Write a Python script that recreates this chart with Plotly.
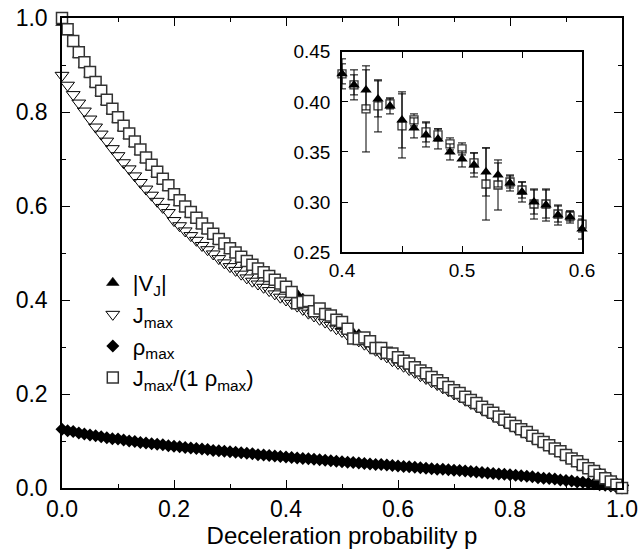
import plotly.graph_objects as go

# deceleration probability, main panel (0.00 .. 1.00)
p = [round(i * 0.01, 2) for i in range(101)]

# |V_J|  (filled up-triangles)
v_j = [0.990, 0.970, 0.946, 0.922, 0.901, 0.880, 0.859, 0.840, 0.821, 0.802,
       0.784, 0.766, 0.749, 0.732, 0.715, 0.698, 0.683, 0.668, 0.653, 0.639,
       0.620, 0.607, 0.594, 0.582, 0.570, 0.558, 0.547, 0.536, 0.525, 0.515,
       0.505, 0.496, 0.487, 0.478, 0.470, 0.462, 0.454, 0.446, 0.438, 0.431,
       0.428, 0.417, 0.412, 0.403, 0.396, 0.382, 0.374, 0.367, 0.363, 0.350,
       0.343, 0.337, 0.330, 0.327, 0.319, 0.310, 0.300, 0.297, 0.287, 0.285,
       0.273, 0.267, 0.260, 0.253, 0.246, 0.239, 0.232, 0.225, 0.218, 0.211,
       0.204, 0.197, 0.190, 0.183, 0.176, 0.169, 0.162, 0.155, 0.148, 0.141,
       0.135, 0.128, 0.121, 0.114, 0.107, 0.100, 0.094, 0.087, 0.080, 0.073,
       0.066, 0.059, 0.052, 0.045, 0.038, 0.031, 0.025, 0.018, 0.011, 0.005,
       0.000]

# J_max  (open down-triangles)
j_max = [0.878, 0.857, 0.837, 0.819, 0.802, 0.785, 0.768, 0.753, 0.738, 0.722,
         0.707, 0.692, 0.679, 0.664, 0.650, 0.636, 0.623, 0.610, 0.597, 0.586,
         0.569, 0.558, 0.547, 0.537, 0.527, 0.516, 0.507, 0.498, 0.488, 0.479,
         0.471, 0.463, 0.455, 0.447, 0.440, 0.434, 0.427, 0.420, 0.413, 0.406,
         0.400, 0.393, 0.387, 0.380, 0.372, 0.366, 0.359, 0.353, 0.346, 0.339,
         0.333, 0.326, 0.320, 0.313, 0.306, 0.299, 0.293, 0.285, 0.279, 0.271,
         0.265, 0.259, 0.252, 0.246, 0.239, 0.233, 0.226, 0.220, 0.213, 0.207,
         0.200, 0.194, 0.187, 0.180, 0.174, 0.167, 0.161, 0.154, 0.147, 0.141,
         0.135, 0.128, 0.122, 0.115, 0.108, 0.102, 0.096, 0.089, 0.082, 0.076,
         0.069, 0.062, 0.055, 0.048, 0.042, 0.035, 0.028, 0.021, 0.014, 0.007,
         0.000]

# rho_max  (filled diamonds)
rho_max = [0.125, 0.122, 0.120, 0.117, 0.115, 0.113, 0.111, 0.109, 0.107, 0.105,
           0.104, 0.102, 0.100, 0.099, 0.097, 0.096, 0.094, 0.093, 0.092, 0.090,
           0.089, 0.088, 0.086, 0.085, 0.084, 0.083, 0.082, 0.080, 0.079, 0.078,
           0.077, 0.076, 0.075, 0.074, 0.073, 0.071, 0.070, 0.069, 0.068, 0.067,
           0.066, 0.065, 0.064, 0.063, 0.062, 0.061, 0.060, 0.059, 0.058, 0.057,
           0.056, 0.055, 0.054, 0.053, 0.052, 0.051, 0.050, 0.050, 0.049, 0.048,
           0.047, 0.046, 0.045, 0.044, 0.043, 0.042, 0.041, 0.040, 0.040, 0.039,
           0.038, 0.037, 0.036, 0.035, 0.034, 0.033, 0.032, 0.031, 0.030, 0.029,
           0.028, 0.027, 0.026, 0.025, 0.024, 0.022, 0.021, 0.020, 0.019, 0.017,
           0.016, 0.015, 0.013, 0.012, 0.010, 0.009, 0.007, 0.006, 0.004, 0.002,
           0.000]

# J_max/(1-rho_max)  (open squares)
j_ratio = [1.000, 0.976, 0.951, 0.927, 0.906, 0.885, 0.864, 0.845, 0.826, 0.807,
           0.789, 0.771, 0.754, 0.737, 0.720, 0.703, 0.688, 0.673, 0.658, 0.644,
           0.625, 0.612, 0.599, 0.587, 0.575, 0.563, 0.552, 0.541, 0.530, 0.520,
           0.510, 0.501, 0.492, 0.483, 0.475, 0.467, 0.459, 0.451, 0.443, 0.435,
           0.428, 0.417, 0.393, 0.396, 0.398, 0.376, 0.382, 0.370, 0.367, 0.358,
           0.353, 0.339, 0.318, 0.317, 0.320, 0.312, 0.298, 0.298, 0.288, 0.286,
           0.278, 0.271, 0.265, 0.257, 0.250, 0.244, 0.236, 0.229, 0.223, 0.215,
           0.208, 0.202, 0.194, 0.187, 0.181, 0.173, 0.166, 0.160, 0.152, 0.145,
           0.139, 0.132, 0.125, 0.119, 0.111, 0.104, 0.098, 0.091, 0.084, 0.078,
           0.070, 0.063, 0.057, 0.049, 0.042, 0.036, 0.028, 0.021, 0.014, 0.007,
           0.000]

# inset (0.40 .. 0.60) with error bars
p_in = [round(0.40 + i * 0.01, 2) for i in range(21)]
v_in = v_j[40:61]
v_in_err = [0.015, 0.015, 0.020, 0.018, 0.008, 0.028, 0.010, 0.012, 0.010, 0.008,
            0.008, 0.012, 0.024, 0.012, 0.008, 0.010, 0.012, 0.016, 0.010, 0.006,
            0.010]
r_in = j_ratio[40:61]
r_in_err = [0.010, 0.010, 0.043, 0.026, 0.005, 0.032, 0.006, 0.010, 0.006, 0.006,
            0.006, 0.010, 0.036, 0.025, 0.006, 0.008, 0.015, 0.014, 0.008, 0.005,
            0.008]

FONT = "Liberation Sans, Arial, sans-serif"

fig = go.Figure()

fig.add_trace(go.Scatter(
    x=p, y=v_j, mode="markers", name="|V<sub>J</sub>|", cliponaxis=False,
    marker=dict(symbol="triangle-up", size=11, color="black",
                line=dict(color="black", width=0.5))))
fig.add_trace(go.Scatter(
    x=p, y=j_max, mode="markers", name="J<sub>max</sub>", cliponaxis=False,
    marker=dict(symbol="triangle-down-open", size=12, color="black",
                line=dict(width=1))))
fig.add_trace(go.Scatter(
    x=p, y=rho_max, mode="markers", name="ρ<sub>max</sub>", cliponaxis=False,
    marker=dict(symbol="diamond", size=10, color="black")))
fig.add_trace(go.Scatter(
    x=p, y=j_ratio, mode="markers", name="J<sub>max</sub>/(1 ρ<sub>max</sub>)",
    cliponaxis=False,
    marker=dict(symbol="square", size=11, color="white",
                line=dict(color="#333333", width=1.5))))

# inset traces
fig.add_trace(go.Scatter(
    x=p_in, y=r_in, xaxis="x2", yaxis="y2", mode="markers", showlegend=False,
    cliponaxis=False,
    error_y=dict(type="data", array=r_in_err, color="black", thickness=1, width=4),
    marker=dict(symbol="square", size=8, color="white",
                line=dict(color="#333333", width=1.3))))
fig.add_trace(go.Scatter(
    x=p_in, y=v_in, xaxis="x2", yaxis="y2", mode="markers", showlegend=False,
    cliponaxis=False,
    error_y=dict(type="data", array=v_in_err, color="black", thickness=1, width=4),
    marker=dict(symbol="triangle-up", size=10, color="black")))

axis_common = dict(showgrid=False, zeroline=False, showline=True, linecolor="black",
                   linewidth=1.5, mirror="ticks", ticks="inside", tickcolor="black",
                   tickwidth=1.2, automargin=False, ticklabeloverflow="allow")

fig.update_layout(
    width=639, height=555,
    margin=dict(l=62, r=17, t=18, b=67, autoexpand=False),
    paper_bgcolor="white", plot_bgcolor="white",
    font=dict(family=FONT, size=23, color="black"),
    showlegend=True,
    legend=dict(x=0.055, y=0.481, xanchor="left", yanchor="top",
                bgcolor="rgba(0,0,0,0)", font=dict(size=22),
                itemwidth=30, tracegroupgap=0),
    xaxis=dict(range=[0, 1], dtick=0.2, tickformat=".1f", ticklen=8,
               minor=dict(dtick=0.1, ticklen=4, ticks="inside", tickcolor="black"),
               title=dict(text="Deceleration probability p", standoff=6,
                          font=dict(size=24)),
               **axis_common),
    yaxis=dict(range=[0, 1], dtick=0.2, tickformat=".1f", ticklen=8,
               ticklabelstandoff=8,
               minor=dict(dtick=0.1, ticklen=4, ticks="inside", tickcolor="black"),
               **axis_common),
    xaxis2=dict(domain=[0.5, 0.9286], anchor="y2", range=[0.4, 0.6], dtick=0.1,
                tickformat=".1f", ticklen=6, tickfont=dict(size=19),
                minor=dict(dtick=0.05, ticklen=6, ticks="inside", tickcolor="black"),
                **axis_common),
    yaxis2=dict(domain=[0.502, 0.928], anchor="x2", range=[0.25, 0.45], dtick=0.05,
                tickformat=".2f", ticklen=6, tickfont=dict(size=19),
                ticklabelstandoff=6, **axis_common),
)

# drop the default 8px page margin so the figure fills the window exactly
fig.write_html("out.html", config={"displayModeBar": False},
               post_script="document.body.style.margin='0';")
